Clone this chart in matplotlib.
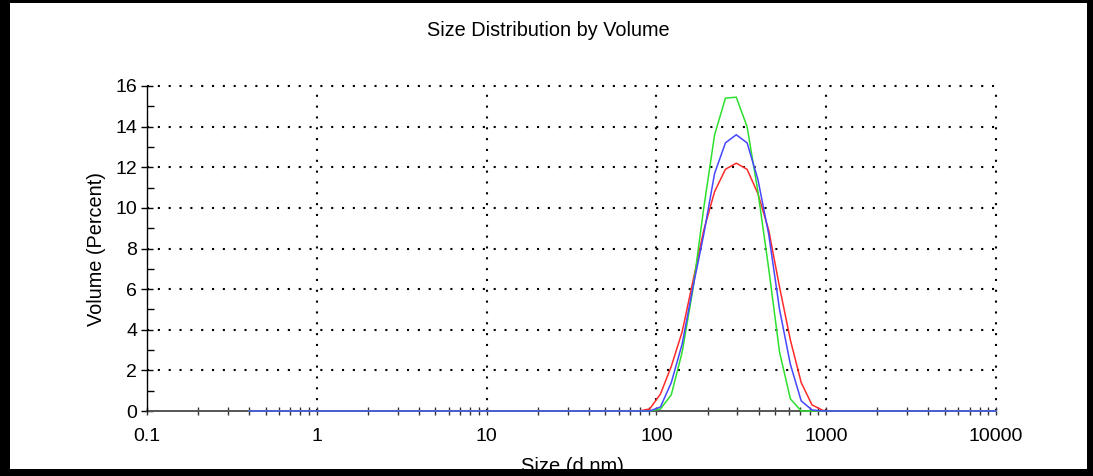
import matplotlib
matplotlib.use("Agg")
import matplotlib.pyplot as plt
from matplotlib.patches import Rectangle
from matplotlib.ticker import LogLocator, FixedLocator, MultipleLocator, FuncFormatter

plt.rcParams['font.family'] = ['Liberation Sans', 'DejaVu Sans']

# Size classes (d.nm), logarithmically spaced
sizes = [0.4, 0.4632, 0.5365, 0.6213, 0.7195, 0.8332, 0.9649, 1.117, 1.294, 1.499,
         1.736, 2.01, 2.328, 2.696, 3.122, 3.615, 4.187, 4.849, 5.615, 6.503,
         7.531, 8.721, 10.1, 11.7, 13.54, 15.69, 18.17, 21.04, 24.36, 28.21,
         32.67, 37.84, 43.82, 50.75, 58.77, 68.06, 78.82, 91.28, 105.7, 122.4,
         141.8, 164.2, 190.1, 220.2, 255.0, 295.3, 342.0, 396.1, 458.7, 531.2,
         615.1, 712.4, 825.0, 955.4, 1106, 1281, 1484, 1718, 1990, 2305,
         2669, 3091, 3580, 4145, 4801, 5560, 6439, 7456, 8635, 10000]

# Volume (%) per size class for each measurement
volume_red = [0, 0, 0, 0, 0, 0, 0, 0, 0, 0,
              0, 0, 0, 0, 0, 0, 0, 0, 0, 0,
              0, 0, 0, 0, 0, 0, 0, 0, 0, 0,
              0, 0, 0, 0, 0, 0, 0, 0.1, 0.84, 2.2,
              3.9, 6.4, 8.9, 10.8, 11.9, 12.2, 11.9, 10.7, 8.9, 6.1,
              3.5, 1.4, 0.3, 0.03, 0, 0, 0, 0, 0, 0,
              0, 0, 0, 0, 0, 0, 0, 0, 0, 0]

volume_green = [0, 0, 0, 0, 0, 0, 0, 0, 0, 0,
                0, 0, 0, 0, 0, 0, 0, 0, 0, 0,
                0, 0, 0, 0, 0, 0, 0, 0, 0, 0,
                0, 0, 0, 0, 0, 0, 0, 0, 0.1, 0.8,
                2.9, 6.0, 10.0, 13.6, 15.4, 15.45, 14.0, 10.8, 7.0, 2.9,
                0.6, 0, 0, 0, 0, 0, 0, 0, 0, 0,
                0, 0, 0, 0, 0, 0, 0, 0, 0, 0]

volume_blue = [0, 0, 0, 0, 0, 0, 0, 0, 0, 0,
               0, 0, 0, 0, 0, 0, 0, 0, 0, 0,
               0, 0, 0, 0, 0, 0, 0, 0, 0, 0,
               0, 0, 0, 0, 0, 0, 0, 0, 0.2, 1.4,
               3.3, 6.1, 8.7, 11.7, 13.2, 13.6, 13.2, 11.4, 8.7, 5.0,
               2.3, 0.5, 0.05, 0, 0, 0, 0, 0, 0, 0,
               0, 0, 0, 0, 0, 0, 0, 0, 0, 0]

x_ticks = [0.1, 1, 10, 100, 1000, 10000]
x_tick_labels = ['0.1', '1', '10', '100', '1000', '10000']
y_ticks = [0, 2, 4, 6, 8, 10, 12, 14, 16]

W, H = 1093, 476
fig = plt.figure(figsize=(W / 100, H / 100), dpi=100)
fig.patch.set_facecolor('white')

ax = fig.add_axes([147 / W, 1 - 411 / H, (996 - 147) / W, (411 - 86) / H])
ax.set_xscale('log')
ax.set_xlim(0.1, 10000)
ax.set_ylim(0, 16)

# Dotted grid
dot = (0, (1, 4.2))
for yv in y_ticks[1:]:
    ax.plot([0.1, 10000], [yv, yv], color='black', lw=1.5, ls=dot, zorder=1,
            clip_on=False)
for xv in x_ticks[1:]:
    ax.plot([xv, xv], [0, 16], color='black', lw=1.5, ls=dot, zorder=1,
            clip_on=False)

ax.plot(sizes, volume_red, color='#ff2a2a', lw=1.1, zorder=3, clip_on=False)
ax.plot(sizes, volume_green, color='#2ee02e', lw=1.1, zorder=3, clip_on=False)
ax.plot(sizes, volume_blue, color='#4646ff', lw=1.1, zorder=4, clip_on=False)

for s in ('top', 'right'):
    ax.spines[s].set_visible(False)
ax.spines['left'].set_color('black')
ax.spines['left'].set_linewidth(1.0)
ax.spines['bottom'].set_color('#555555')
ax.spines['bottom'].set_linewidth(1.4)
ax.spines['bottom'].set_zorder(2)

ax.xaxis.set_major_locator(FixedLocator(x_ticks))
ax.set_xticklabels(x_tick_labels)
ax.xaxis.set_minor_locator(LogLocator(base=10, subs=range(2, 10), numticks=20))
ax.xaxis.set_minor_formatter(FuncFormatter(lambda v, p: ''))
ax.yaxis.set_major_locator(FixedLocator(y_ticks))
ax.yaxis.set_minor_locator(MultipleLocator(1))

ax.tick_params(axis='x', which='major', direction='inout', length=6, width=1,
               color='#333333', labelsize=14, pad=9)
ax.tick_params(axis='x', which='minor', direction='inout', length=6, width=1,
               color='#333333')
ax.tick_params(axis='y', which='major', direction='inout', length=8, width=1,
               color='black', labelsize=14, pad=3)
ax.tick_params(axis='y', which='minor', direction='in', length=5, width=1,
               color='black')

ax.set_ylabel('Volume (Percent)', fontsize=14.3, labelpad=7)
fig.text(548 / W, 1 - 30 / H, 'Size Distribution by Volume', fontsize=14.3,
         ha='center', va='center')
fig.text(572 / W, 1 - 466 / H, 'Size (d.nm)', fontsize=14.5,
         ha='center', va='center')

# Black frame around the figure
frame = [(0, 0, 10, H), (1087, 0, W - 1087, H), (0, 0, W, 3), (0, 469, W, H - 469)]
for x0, y0, w, h in frame:
    fig.add_artist(Rectangle((x0 / W, 1 - (y0 + h) / H), w / W, h / H,
                             transform=fig.transFigure, facecolor='black',
                             edgecolor='none', zorder=10))

fig.savefig('out.png', dpi=100, facecolor='white')
